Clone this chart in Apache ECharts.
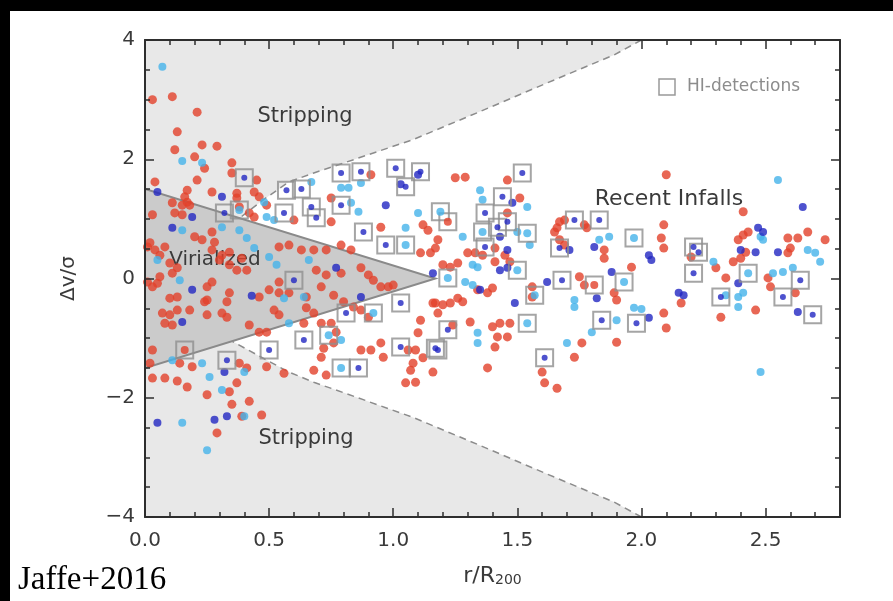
<!DOCTYPE html>
<html><head><meta charset="utf-8">
<script src="https://cdn.jsdelivr.net/npm/echarts@6.0.0/dist/echarts.min.js"></script>
<style>html,body{margin:0;padding:0;background:#000;}#c{width:893px;height:601px;}</style>
</head><body><div id="c"></div>
<script>
// ---- data (r/R200, dv/sigma) ----
const redPts = [
[0.03,3.0],[0.11,3.05],[0.21,2.79],[0.13,2.46],[0.12,2.16],[0.23,2.24],[0.29,2.22],[0.20,2.04],[0.24,1.85],[0.35,1.94],[0.35,1.77],[0.45,1.65],[0.04,1.62],[0.21,1.65],[0.17,1.48],[0.27,1.45],[0.37,1.43],[0.44,1.45],
[0.16,1.37],[0.17,1.28],[0.37,1.35],[0.38,1.2],[0.46,1.37],[0.49,1.23],[0.42,1.1],[0.44,1.03],[0.11,1.27],[0.15,1.23],[0.18,1.23],[0.12,1.1],[0.15,1.07],[0.03,1.07],
[0.20,0.70],[0.23,0.65],[0.28,0.61],[0.27,0.78],[0.01,0.53],[0.02,0.6],[0.04,0.48],[0.06,0.39],[0.08,0.53],[0.27,0.48],[0.31,0.39],[0.34,0.44],[0.39,0.34],[0.30,0.31],[0.34,0.23],[0.37,0.14],[0.41,0.14],
[0.54,0.53],[0.58,0.56],[0.63,0.48],[0.68,0.48],[0.73,0.48],[0.79,0.56],[0.83,0.48],[0.69,0.14],[0.73,0.06],[0.79,0.09],[0.87,0.18],[0.90,0.06],[0.92,-0.03],[0.95,-0.14],[0.98,-0.14],[1.0,-0.11],
[0.54,-0.06],[0.50,-0.19],[0.54,-0.24],[0.58,-0.24],[0.65,-0.31],[0.71,-0.14],[0.76,-0.28],[0.46,-0.31],[0.33,-0.39],[0.34,-0.24],[0.25,-0.14],[0.27,-0.06],[0.24,-0.39],
[0.01,-0.06],[0.03,-0.14],[0.05,-0.08],[0.06,0.03],[0.10,0.26],[0.11,0.09],[0.13,0.18],[0.10,-0.33],[0.13,-0.31],[0.13,-0.53],[0.10,-0.61],[0.07,-0.58],[0.08,-0.75],[0.11,-0.78],[0.18,-0.53],[0.25,-0.36],[0.25,-0.61],[0.31,-0.58],[0.33,-0.65],
[0.42,-0.78],[0.46,-0.9],[0.49,-0.9],[0.52,-0.53],[0.54,-0.61],[0.65,-0.49],[0.68,-0.58],[0.64,-0.75],[0.71,-0.75],[0.75,-0.75],[0.77,-0.9],[0.80,-0.39],[0.84,-0.48],[0.87,-0.53],[0.90,-0.65],
[0.72,-1.17],[0.76,-1.08],[0.71,-1.32],[0.87,-1.2],[0.91,-1.2],[0.95,-1.08],[0.96,-1.32],[1.06,-1.2],[1.08,-1.42],[1.10,-0.91],[1.07,-1.54],[1.16,-0.41],[1.18,-0.58],[1.11,-0.7],
[0.19,-1.48],[0.14,-1.42],[0.02,-1.42],[0.03,-1.2],[0.03,-1.67],[0.08,-1.67],[0.38,-1.42],[0.41,-1.5],[0.37,-1.75],[0.49,-1.48],[0.56,-1.59],[0.68,-1.54],[0.73,-1.62],
[0.29,-2.59],[0.39,-2.31],[0.47,-2.29],[0.42,-2.06],[0.13,-1.72],[0.17,-1.82],[0.25,-1.95],[0.34,-1.9],[0.35,-2.11],
[0.91,1.74],[1.25,1.69],[1.29,1.70],[1.46,1.65],[0.75,1.35],[0.60,0.98],[0.75,0.95],[1.12,0.90],[1.51,1.35],[1.67,0.95],[1.66,0.85],[1.78,0.85],[2.10,1.74],[2.41,1.12],[1.14,0.81],[1.46,1.10],[0.95,0.86],
[1.18,0.65],[1.17,0.51],[1.11,0.43],[1.15,0.43],[1.20,0.23],[1.23,0.19],[1.26,0.26],[1.30,0.43],[1.33,0.43],[1.36,0.39],[1.41,0.28],[1.47,0.28],[1.41,0.51],[1.45,0.39],
[1.34,-0.19],[1.38,-0.24],[1.40,-0.16],[1.26,-0.33],[1.20,-0.44],[1.17,-0.41],[1.23,-0.41],[1.28,-0.39],[1.47,-0.75],[1.43,-0.75],[1.40,-0.81],[1.42,-0.98],[1.41,-1.15],[1.46,-0.98],[1.31,-0.73],[1.24,-0.78],
[1.09,-1.2],[1.12,-1.33],[1.16,-1.57],[1.05,-1.75],[1.09,-1.74],[1.38,-1.5],[1.60,-1.57],[1.61,-1.75],[1.66,-1.84],[1.73,-1.32],[1.76,-1.08],[1.90,-1.07],[2.09,-0.58],[2.10,-0.83],
[1.89,-0.24],[1.90,-0.36],[1.75,0.03],[1.77,-0.11],[1.56,-0.14],[1.56,-0.31],[1.96,0.19],[1.85,0.48],[1.85,0.34],[1.69,0.98],[1.65,0.78],[1.67,0.65],[1.69,0.56],[1.77,0.9],
[2.09,0.90],[2.08,0.68],[2.09,0.51],[2.16,-0.41],[2.20,0.36],[2.30,0.18],[2.34,0.01],[2.32,-0.65],[2.37,0.28],[2.40,0.34],[2.42,0.44],[2.39,0.65],[2.41,0.73],[2.43,0.78],[2.46,-0.53],[2.51,0.01],[2.52,-0.14],
[2.59,0.43],[2.60,0.51],[2.59,0.68],[2.63,0.68],[2.67,0.78],[2.62,-0.24],[2.74,0.65]
];
const cyanPts = [
[0.07,3.55],[0.15,1.97],[0.23,1.94],[0.79,1.52],[0.82,1.52],[0.87,1.60],[0.67,1.62],[0.83,1.27],[0.86,1.12],[1.10,1.10],[1.35,1.48],[1.36,1.32],[1.54,1.20],[1.87,0.70],[1.50,0.78],[1.28,0.70],[1.32,0.23],[1.34,0.19],[1.29,-0.06],[1.32,-0.11],[1.73,-0.36],[1.73,-0.48],[1.83,0.65],[1.34,-0.91],[1.34,-1.08],[1.70,-1.08],[1.80,-0.90],[1.90,-0.70],[1.97,-0.49],[2.00,-0.51],[2.29,0.28],[2.39,-0.31],[2.39,-0.48],[2.41,-0.24],[2.48,0.70],[2.49,0.65],[2.48,-1.57],[2.53,0.09],[2.57,0.11],[2.61,0.18],[2.67,0.48],[2.70,0.43],[2.55,1.65],[2.72,0.28],[0.49,1.03],[0.52,0.98],[0.15,0.81],[0.31,0.86],[0.38,0.81],[0.41,0.68],[0.44,0.51],[0.50,0.36],[0.53,0.23],[0.66,0.31],[0.05,0.31],[0.14,-0.03],[0.64,-0.31],[0.56,-0.33],[0.58,-0.75],[0.79,-1.03],[0.23,-1.42],[0.26,-1.65],[0.11,-1.37],[0.31,-1.87],[0.40,-1.57],[0.15,-2.42],[0.25,-2.88],[0.40,-2.31],[0.48,1.28],[1.05,0.85],[1.55,0.56],[2.34,-0.28]
];
const bluePts = [
[0.05,1.45],[0.31,1.37],[1.10,1.74],[0.97,1.23],[1.48,1.27],[1.43,0.70],[1.46,0.48],[1.46,0.18],[1.43,0.14],[1.35,-0.19],[1.16,0.09],[1.49,-0.41],[1.62,-0.06],[1.82,-0.33],[1.88,0.11],[1.81,0.53],[1.71,0.48],[2.03,0.39],[2.04,0.31],[2.03,-0.66],[2.15,-0.24],[2.17,-0.28],[2.39,-0.08],[2.40,0.48],[2.46,0.44],[2.47,0.85],[2.49,0.78],[2.55,0.44],[2.63,-0.56],[2.65,1.20],[0.19,1.03],[0.11,0.85],[0.77,0.18],[0.43,-0.29],[0.19,-0.19],[0.15,-0.73],[0.87,-0.31],[0.32,-1.57],[0.05,-2.42],[0.28,-2.37],[0.33,-2.31],[1.03,1.58]
];
// HI detections (boxed), by colour of the enclosed galaxy
const hiBlue = [
[0.40,1.69],[0.57,1.48],[0.63,1.50],[0.79,1.77],[0.87,1.79],[1.01,1.85],[1.11,1.79],[1.05,1.54],[0.67,1.20],[0.69,1.02],[0.79,1.23],[1.44,1.37],[1.37,1.10],[1.42,0.86],[1.46,0.95],[1.52,1.77],[1.37,0.53],[1.73,0.98],[1.83,0.98],[0.32,1.10],[0.56,1.10],[0.88,0.78],[0.97,0.56],[0.60,-0.03],[1.22,-0.86],[1.18,-1.20],[1.61,-1.33],[1.84,-0.70],[1.98,-0.75],[1.68,-0.03],[1.67,0.51],[2.21,0.53],[2.23,0.44],[2.21,0.09],[2.32,-0.31],[2.57,-0.31],[2.64,-0.03],[2.69,-0.61],[0.81,-0.58],[0.64,-1.03],[0.50,-1.20],[0.33,-1.37],[1.03,-0.41],[0.86,-1.50],[1.03,-1.15],[1.17,-1.17]
];
const hiCyan = [
[1.19,1.12],[1.36,0.78],[1.54,0.76],[1.97,0.68],[0.38,1.15],[1.05,0.56],[1.22,0.01],[1.50,0.14],[1.54,-0.75],[1.57,-0.28],[1.93,-0.06],[2.43,0.09],[0.92,-0.58],[0.74,-0.95],[0.79,-1.50]
];
const hiRed = [[1.22,0.95],[1.81,-0.11],[0.16,-1.20]];

// region boundaries
const virTriangle = [[0,1.5],[1.17,0],[0,-1.5]];
const stripUpperEdge = [[2.0,4.0],[1.89,3.75],[1.62,3.28],[1.35,2.8],[1.08,2.33],[0.81,1.95],[0.68,1.77],[0.58,1.62],[0.48,1.33],[0.38,1.01]];
const stripLowerEdge = [[2.0,-4.0],[1.89,-3.75],[1.62,-3.28],[1.35,-2.8],[1.08,-2.33],[0.81,-1.93],[0.68,-1.74],[0.58,-1.57],[0.46,-1.3],[0.35,-1.05]];

// axes
const X_MIN = 0, X_MAX = 2.8, X_STEP = 0.5, X_MINOR = 0.1;
const Y_MIN = -4, Y_MAX = 4, Y_STEP = 2;

const AX = '#2e2e2e';
const TXT = '#3a3a3a';
const FONT = 'DejaVu Sans';

function renderBg(params, api) {
  const c = p => api.coord(p);
  const upper = [[X_MIN, Y_MAX]].concat(stripUpperEdge, [virTriangle[0]]).map(c);
  const lower = [[X_MIN, Y_MIN]].concat(stripLowerEdge, [virTriangle[2]]).map(c);
  return { type: 'group', children: [
    { type: 'polygon', shape: { points: upper }, style: { fill: '#e8e8e8' } },
    { type: 'polygon', shape: { points: lower }, style: { fill: '#e8e8e8' } },
    { type: 'polygon', shape: { points: virTriangle.map(c) }, style: { fill: '#cbcbcb' } },
    { type: 'polyline', shape: { points: virTriangle.map(c) }, style: { stroke: '#8a8a8a', lineWidth: 2, fill: null } },
    { type: 'polyline', shape: { points: stripUpperEdge.map(c) }, style: { stroke: '#8c8c8c', lineWidth: 1.5, lineDash: [7, 5], fill: null } },
    { type: 'polyline', shape: { points: stripLowerEdge.map(c) }, style: { stroke: '#8c8c8c', lineWidth: 1.5, lineDash: [7, 5], fill: null } }
  ]};
}

function xAxisDef(pos, main) {
  return {
    type: 'value', min: X_MIN, max: X_MAX, interval: X_STEP, position: pos, z: 8,
    axisLine: { show: true, onZero: false, lineStyle: { color: AX, width: 2 } },
    axisTick: { show: true, inside: true, length: 9, lineStyle: { color: AX, width: 1.5 } },
    splitLine: { show: false },
    axisLabel: main ? { show: true, margin: 14, fontSize: 20, color: TXT, fontFamily: FONT,
      showMaxLabel: false, formatter: v => v.toFixed(1) } : { show: false },
    name: main ? '{m|r/R}{s|200}' : '',
    nameLocation: 'middle', nameGap: 48,
    nameTextStyle: { rich: {
      m: { fontSize: 22, fontFamily: FONT, color: TXT, verticalAlign: 'top' },
      s: { fontSize: 14, fontFamily: FONT, color: TXT, verticalAlign: 'top', padding: [8, 0, 0, 0] }
    } }
  };
}
function xMinorDef(pos) {
  return {
    type: 'value', min: X_MIN, max: X_MAX, interval: X_MINOR, position: pos, z: 8,
    axisLine: { show: false, onZero: false },
    axisTick: { show: true, inside: true, length: 5, lineStyle: { color: AX, width: 1.5 } },
    splitLine: { show: false }, axisLabel: { show: false }
  };
}
function yAxisDef(pos, main) {
  return {
    type: 'value', min: Y_MIN, max: Y_MAX, interval: Y_STEP, position: pos, z: 8,
    axisLine: { show: true, onZero: false, lineStyle: { color: AX, width: 2 } },
    axisTick: { show: true, inside: true, length: 9, lineStyle: { color: AX, width: 1.5 } },
    minorTick: { show: true, splitNumber: 4, length: 5, lineStyle: { color: AX, width: 1.5 } },
    splitLine: { show: false }, minorSplitLine: { show: false },
    axisLabel: main ? { show: true, margin: 10, fontSize: 20, color: TXT, fontFamily: FONT,
      formatter: v => v < 0 ? '\u2212' + Math.abs(v) : String(v) } : { show: false },
    name: main ? 'Δv/σ' : '', nameLocation: 'middle', nameGap: 66, nameRotate: 90,
    nameTextStyle: { fontSize: 20, fontFamily: FONT, color: TXT }
  };
}

const chart = echarts.init(document.getElementById('c'), null, { renderer: 'canvas' });
chart.setOption({
  backgroundColor: '#000',
  animation: false,
  grid: { left: 145, top: 40, right: 53, bottom: 84, containLabel: false },
  xAxis: [xAxisDef('bottom', true), xAxisDef('top', false), xMinorDef('bottom'), xMinorDef('top')],
  yAxis: [yAxisDef('left', true), yAxisDef('right', false)],
  graphic: { elements: [
    { type: 'rect', shape: { x: 10, y: 11, width: 883, height: 590 }, style: { fill: '#ffffff' }, z: -10, silent: true },
    { type: 'text', x: 305, y: 117, z: 2, style: { text: 'Stripping', fontSize: 21, fontFamily: FONT, fill: TXT, align: 'center', verticalAlign: 'middle' } },
    { type: 'text', x: 306, y: 439, z: 2, style: { text: 'Stripping', fontSize: 21, fontFamily: FONT, fill: TXT, align: 'center', verticalAlign: 'middle' } },
    { type: 'text', x: 215, y: 260, z: 2, style: { text: 'Virialized', fontSize: 20, fontFamily: FONT, fill: TXT, align: 'center', verticalAlign: 'middle' } },
    { type: 'text', x: 669, y: 199, z: 2, style: { text: 'Recent Infalls', fontSize: 22, fontFamily: FONT, fill: TXT, align: 'center', verticalAlign: 'middle' } },
    { type: 'rect', shape: { x: 659, y: 79, width: 16, height: 16 }, z: 2, style: { fill: 'none', stroke: '#999999', lineWidth: 1.5 } },
    { type: 'text', x: 687, y: 87, z: 2, style: { text: 'HI-detections', fontSize: 17, fontFamily: FONT, fill: '#8c8c8c', align: 'left', verticalAlign: 'middle' } },
    { type: 'text', x: 18, y: 580, z: 2, style: { text: 'Jaffe+2016', fontSize: 33, fontFamily: 'Liberation Serif', fill: '#000', align: 'left', verticalAlign: 'middle' } }
  ] },
  series: [
    { type: 'custom', renderItem: renderBg, data: [[0, 0]], z: 1, silent: true, clip: true },
    { type: 'scatter', data: redPts, symbol: 'circle', symbolSize: 9, itemStyle: { color: '#e2412a' }, z: 3, silent: true },
    { type: 'scatter', data: cyanPts, symbol: 'circle', symbolSize: 8, itemStyle: { color: '#45b3ea' }, z: 4, silent: true },
    { type: 'scatter', data: bluePts, symbol: 'circle', symbolSize: 8, itemStyle: { color: '#2227c2' }, z: 5, silent: true },
    { type: 'scatter', data: hiBlue.concat(hiCyan, hiRed), symbol: 'rect', symbolSize: 17,
      itemStyle: { color: 'rgba(0,0,0,0)', borderColor: '#8f8f8f', borderWidth: 2 }, z: 6, silent: true },
    { type: 'scatter', data: hiBlue, symbol: 'circle', symbolSize: 6, itemStyle: { color: '#2227c2' }, z: 7, silent: true },
    { type: 'scatter', data: hiCyan, symbol: 'circle', symbolSize: 8, itemStyle: { color: '#45b3ea' }, z: 7, silent: true },
    { type: 'scatter', data: hiRed, symbol: 'circle', symbolSize: 8, itemStyle: { color: '#e2412a' }, z: 7, silent: true }
  ]
});
</script></body></html>
